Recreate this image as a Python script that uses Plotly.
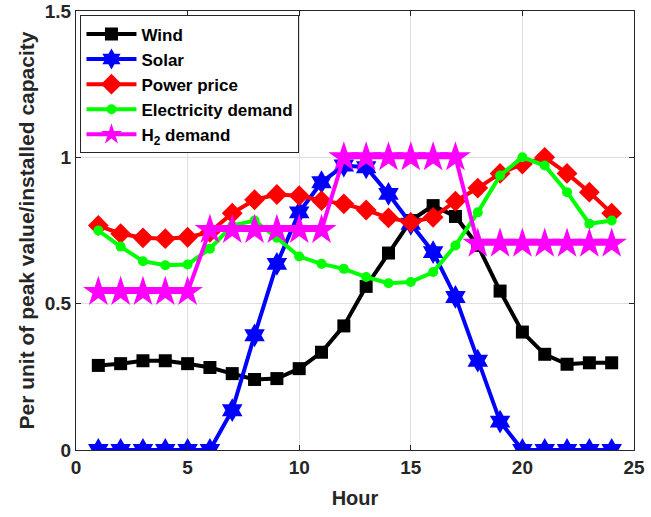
import plotly.graph_objects as go

hours = list(range(1, 25))
wind = [0.289, 0.295, 0.305, 0.305, 0.295, 0.282, 0.261, 0.241, 0.244, 0.278, 0.334, 0.424,
        0.559, 0.673, 0.784, 0.835, 0.798, 0.699, 0.543, 0.403, 0.327, 0.293, 0.298, 0.298]
solar = [0, 0, 0, 0, 0, 0, 0.136, 0.392, 0.636, 0.812, 0.915, 0.972,
         0.966, 0.875, 0.773, 0.676, 0.523, 0.305, 0.097, 0, 0, 0, 0, 0]
price = [0.767, 0.739, 0.725, 0.722, 0.727, 0.744, 0.809, 0.855, 0.873, 0.869, 0.852, 0.841,
         0.820, 0.793, 0.778, 0.795, 0.850, 0.895, 0.945, 0.977, 1.0, 0.945, 0.881, 0.809]
elec = [0.750, 0.695, 0.645, 0.631, 0.634, 0.688, 0.767, 0.784, 0.725, 0.661, 0.636, 0.619,
        0.591, 0.570, 0.574, 0.608, 0.699, 0.812, 0.938, 1.0, 0.972, 0.881, 0.773, 0.784]
h2 = [0.54] * 5 + [0.752] * 6 + [1.0] * 6 + [0.705] * 7

x_ticks = [0, 5, 10, 15, 20, 25]
y_ticks = [0, 0.5, 1, 1.5]
y_ticklabels = ["0", "0.5", "1", "1.5"]

names = ["Wind", "Solar", "Power price", "Electricity demand", "H<sub>2</sub> demand"]
colors = ["#000000", "#0000FF", "#FF0000", "#00FF00", "#FF00FF"]
symbols = ["square", "hexagram", "diamond", "circle", "star"]
sizes = [13, 18, 16, 10, 23]
series = [wind, solar, price, elec, h2]

fig = go.Figure()
for name, col, sym, sz, ys in zip(names, colors, symbols, sizes, series):
    fig.add_trace(go.Scatter(
        x=hours, y=ys, name="<b>" + name + "</b>", mode="lines+markers",
        line=dict(color=col, width=4),
        marker=dict(symbol=sym, size=sz, color=col, line=dict(width=0)),
    ))

axis_common = dict(
    showgrid=True, gridcolor="#DFDFDF", gridwidth=1,
    showline=True, linecolor="#262626", linewidth=1, mirror="ticks",
    ticks="inside", ticklen=5, tickcolor="#262626",
    zeroline=False, automargin=False,
    tickfont=dict(family="Liberation Sans", size=19, color="#262626"),
)

fig.update_layout(
    width=651, height=517,
    margin=dict(l=76, r=17, t=11, b=67),
    paper_bgcolor="white", plot_bgcolor="white",
    font=dict(family="Liberation Sans", color="#262626"),
    xaxis=dict(range=[0, 25], tickvals=x_ticks,
               ticktext=["<b>%d</b>" % v for v in x_ticks],
               title=dict(text="<b>Hour</b>", font=dict(size=20, color="#262626"), standoff=14),
               **axis_common),
    yaxis=dict(range=[0, 1.5], tickvals=y_ticks,
               ticktext=["<b>%s</b>" % s for s in y_ticklabels],
               title=dict(text="<b>Per unit of peak value/installed capacity</b>",
                          font=dict(size=21, color="#262626"), standoff=4),
               **axis_common),
    legend=dict(x=0.008, y=0.99, xanchor="left", yanchor="top",
                bgcolor="white", bordercolor="#262626", borderwidth=1,
                font=dict(family="Liberation Sans", size=17, color="#000000"),
                tracegroupgap=0, itemwidth=50),
    showlegend=True,
)

fig.write_html("out.html")
